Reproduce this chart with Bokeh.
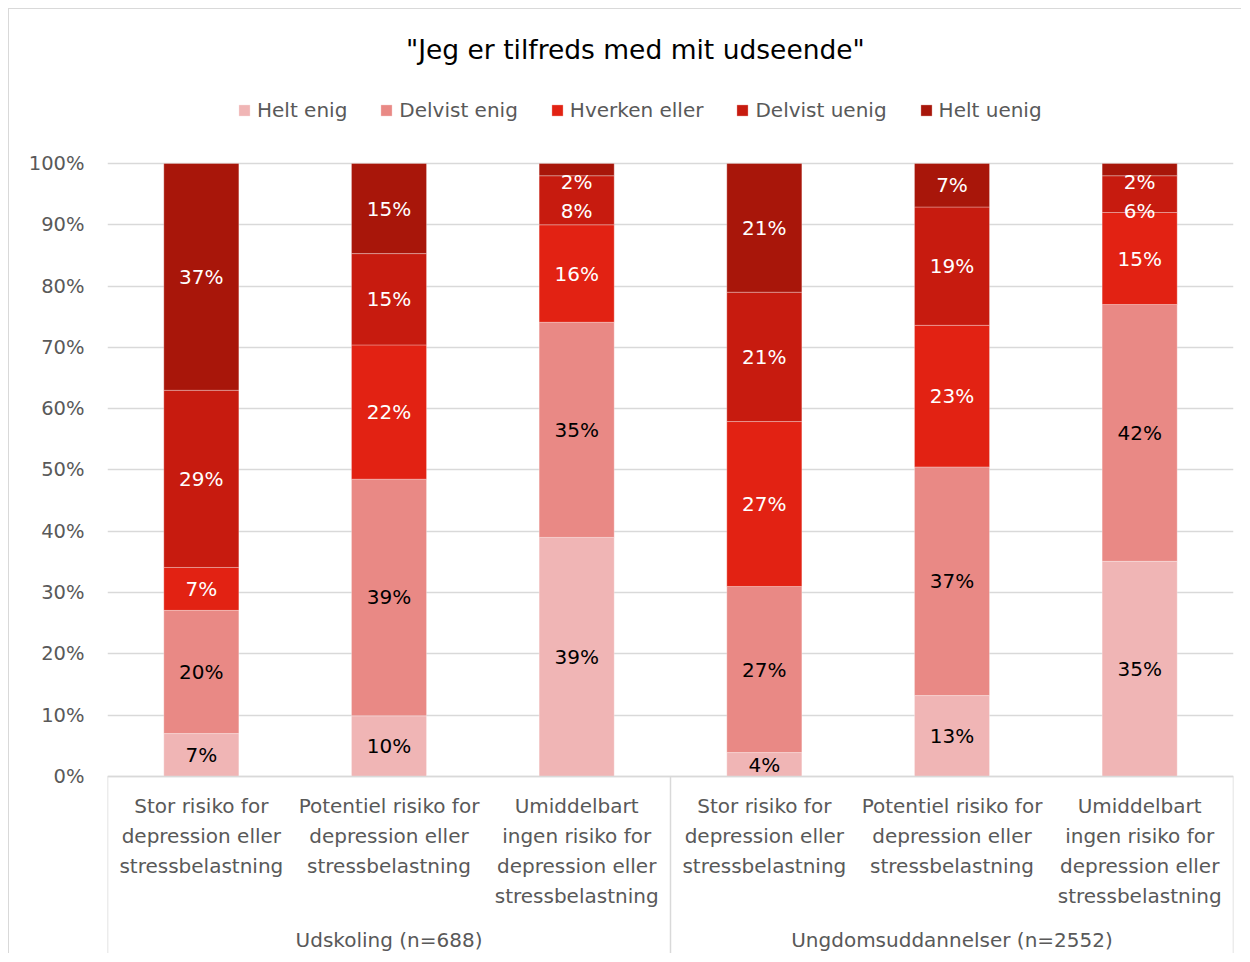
from bokeh.plotting import figure
from bokeh.models import (ColumnDataSource, FixedTicker, NumeralTickFormatter,
                          Legend, LegendItem, Label, Range1d)
from bokeh.core.properties import value
from bokeh.embed import file_html
from bokeh.resources import INLINE

# ---------------- data ----------------
groups = ["Udskoling (n=688)", "Ungdomsuddannelser (n=2552)"]
categories = [
    "Stor risiko for\ndepression eller\nstressbelastning",
    "Potentiel risiko for\ndepression eller\nstressbelastning",
    "Umiddelbart\ningen risiko for\ndepression eller\nstressbelastning",
]
series_names = ["Helt enig", "Delvist enig", "Hverken eller", "Delvist uenig", "Helt uenig"]
helt_enig     = [0.070, 0.099, 0.390, 0.039, 0.132, 0.351]
delvist_enig  = [0.201, 0.386, 0.351, 0.271, 0.373, 0.419]
hverken_eller = [0.070, 0.219, 0.159, 0.269, 0.231, 0.150]
delvist_uenig = [0.289, 0.149, 0.080, 0.211, 0.193, 0.060]
helt_uenig    = [0.370, 0.147, 0.020, 0.210, 0.071, 0.020]
y_ticks = [0.0, 0.1, 0.2, 0.3, 0.4, 0.5, 0.6, 0.7, 0.8, 0.9, 1.0]
chart_title = '"Jeg er tilfreds med mit udseende"'

series = [helt_enig, delvist_enig, hverken_eller, delvist_uenig, helt_uenig]
colors = ["#F0B5B5", "#E98985", "#E22213", "#C71B0F", "#A8160A"]
label_colors = ["#000000", "#000000", "#FFFFFF", "#FFFFFF", "#FFFFFF"]

FONT = "DejaVu Sans"
GREY = "#595959"

n_cat = len(categories) * len(groups)
xs = [i + 0.5 for i in range(n_cat)]

W, H = 1233, 945
y_start, y_end = -0.2904, 1.2512

p = figure(width=W, height=H, output_backend="svg", toolbar_location=None,
           x_range=Range1d(0, n_cat), y_range=Range1d(y_start, y_end),
           x_axis_location=None, min_border_left=98, min_border_right=9,
           min_border_top=0, min_border_bottom=0)
p.outline_line_color = None
p.background_fill_color = "white"
p.border_fill_color = "white"
p.styles = {"margin-top": "8px", "margin-left": "8px",
            "border-top": "1px solid #D9D9D9", "border-left": "1px solid #D9D9D9"}

# y axis
p.yaxis.ticker = FixedTicker(ticks=y_ticks)
p.yaxis.formatter = NumeralTickFormatter(format="0%")
p.yaxis.axis_line_color = None
p.yaxis.major_tick_line_color = None
p.yaxis.minor_tick_line_color = None
p.yaxis.major_label_text_font = FONT
p.yaxis.major_label_text_font_size = "19.5px"
p.yaxis.major_label_text_color = GREY
p.yaxis.major_label_standoff = 17
p.xgrid.grid_line_color = None
p.ygrid.ticker = FixedTicker(ticks=y_ticks)
p.ygrid.grid_line_color = "#D9D9D9"
p.ygrid.grid_line_width = 1.5

# stacked bars
cols = {"x": xs}
keys = []
for k, s in enumerate(series):
    key = f"s{k}"
    keys.append(key)
    cols[key] = s
src = ColumnDataSource(cols)
renderers = p.vbar_stack(keys, x="x", width=0.4, color=colors, source=src,
                         line_color="white", line_width=0.6, line_alpha=0.5)

# labels (kept inside the plot area and apart, as the original does)
lx, ly, lt, lc = [], [], [], []
for i in range(n_cat):
    bottoms = []
    acc = 0.0
    for s in series:
        bottoms.append(acc)
        acc += s[i]
    prev = 0.97 + 0.047
    ys = [0.0] * len(series)
    for k in reversed(range(len(series))):
        c = bottoms[k] + series[k][i] / 2
        yk = min(c, prev - 0.047)
        ys[k] = yk
        prev = yk
    for k, s in enumerate(series):
        lx.append(xs[i]); ly.append(ys[k])
        lt.append(f"{round(s[i] * 100):.0f}%"); lc.append(label_colors[k])
p.text(x=lx, y=ly, text=lt, text_color=lc, text_align="center",
       text_baseline="middle", text_font=value(FONT), text_font_size="20px")

# category axis (two levels)
cat_t = categories * len(groups)
p.text(x=xs, y=[0] * n_cat, text=cat_t, text_color=GREY, text_align="center",
       text_baseline="top", y_offset=18, text_font=value(FONT),
       text_font_size="20px", text_line_height=1.25)
gx = [len(categories) * (g + 0.5) for g in range(len(groups))]
p.text(x=gx, y=[0] * len(groups), text=groups, text_color=GREY, text_align="center",
       text_baseline="middle", y_offset=164, text_font=value(FONT),
       text_font_size="20px")
sep_x = [len(categories) * g for g in range(len(groups) + 1)]
p.segment(x0=sep_x, y0=[0] * len(sep_x), x1=sep_x, y1=[y_start] * len(sep_x),
          line_color="#D9D9D9", line_width=1.5)
p.segment(x0=[0], y0=[0], x1=[n_cat], y1=[0], line_color="#D9D9D9", line_width=1.5)

# legend
items = [LegendItem(label=series_names[k], renderers=[renderers[k]]) for k in range(len(series))]
legend = Legend(items=items, orientation="horizontal", location=(130, 832),
                label_text_font=FONT, label_text_font_size="20px",
                label_text_color=GREY, glyph_width=14, glyph_height=14,
                label_standoff=6, spacing=32, border_line_color=None,
                background_fill_alpha=0, padding=0, margin=0)
p.add_layout(legend, "center")

# title
p.add_layout(Label(x=2.813, y=1.186, text=chart_title, text_align="center",
                   text_baseline="middle", text_font=FONT, text_font_size="26.5px",
                   text_color="#000000"))

open("out.html", "w").write(file_html(p, INLINE))
